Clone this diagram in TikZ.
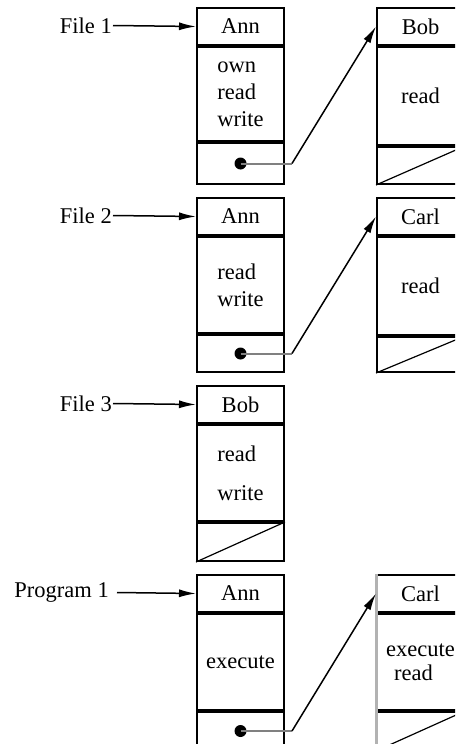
\documentclass[tikz,border=0pt]{standalone}
\usepackage{fontspec}
\setmainfont{Liberation Serif}
\usetikzlibrary{arrows.meta,positioning}
\tikzset{
  cell/.style={draw, line width=2pt, minimum width=87pt, inner sep=0pt, anchor=north west},
  hdr/.style={cell, minimum height=37pt},
  body/.style={cell, align=left},
  tail/.style={cell},
  lbl/.style={anchor=east, inner sep=1pt},
  ref/.style={line width=1.5pt, -{Latex[length=17pt,width=8pt]}},
  ptr/.style={line width=2pt, black!50},
  nil/.style={line width=1.2pt},
}
\begin{document}
\begin{tikzpicture}[x=1pt,y=-1pt,font=\fontsize{22.5}{27}\selectfont]
\useasboundingbox (0,0) rectangle (455,744);
\clip (0,0) rectangle (455,744);
% File 1
\node[hdr] (a1h) at (196,7) {Ann};
\node[body, minimum height=94pt] (a1b) at (a1h.south west) {own\\read\\write};
\node[tail, minimum height=41pt] (a1t) at (a1b.south west) {};
\node[hdr] (b1h) at (376,7) {Bob};
\node[body, minimum height=98pt] (b1b) at (b1h.south west) {read};
\node[tail, minimum height=37pt] (b1t) at (b1b.south west) {};
\draw[nil] (b1t.south west) -- (b1t.north east);
\node[lbl] (f1) at (113,25.5) {File 1};
\draw[ref] (f1.east) -- (a1h.west);
\fill (a1t.center) circle (6pt);
\coordinate (k1) at ([xshift=7pt]a1t.east);
\draw[ptr] (a1t.center) -- (k1);
\draw[ref] (k1) -- (b1h.west);
% File 2
\node[hdr] (a2h) at (196,197) {Ann};
\node[body, minimum height=96pt] (a2b) at (a2h.south west) {read\\write};
\node[tail, minimum height=37pt] (a2t) at (a2b.south west) {};
\node[hdr] (b2h) at (376,197) {Carl};
\node[body, minimum height=98pt] (b2b) at (b2h.south west) {read};
\node[tail, minimum height=35pt] (b2t) at (b2b.south west) {};
\draw[nil] (b2t.south west) -- (b2t.north east);
\node[lbl] (f2) at (113,215.5) {File 2};
\draw[ref] (f2.east) -- (a2h.west);
\fill (a2t.center) circle (6pt);
\coordinate (k2) at ([xshift=7pt]a2t.east);
\draw[ptr] (a2t.center) -- (k2);
\draw[ref] (k2) -- (b2h.west);
% File 3
\node[hdr] (a3h) at (196,385) {Bob};
\node[body, minimum height=96pt] (a3b) at (a3h.south west) {read\\[12pt]write};
\node[tail, minimum height=38pt] (a3t) at (a3b.south west) {};
\draw[nil] (a3t.south west) -- (a3t.north east);
\node[lbl] (f3) at (113,403.5) {File 3};
\draw[ref] (f3.east) -- (a3h.west);
% Program 1
\node[hdr] (a4h) at (196,574) {Ann};
\node[body, minimum height=96pt] (a4b) at (a4h.south west) {execute};
\node[tail, minimum height=38pt] (a4t) at (a4b.south west) {};
\node[hdr] (b4h) at (376,574) {Carl};
\node[body, minimum height=96pt] (b4b) at (b4h.south west) {execute\\[-3pt]\hspace{8pt}read};
\node[tail, minimum height=38pt] (b4t) at (b4b.south west) {};
\draw[nil] (b4t.south west) -- (b4t.north east);
\draw[gray!60, line width=3pt] (b4h.north west) -- (b4t.south west);
\node[lbl] (p1) at (110,592.5) {Program 1};
\draw[ref] ([xshift=7pt]p1.east) -- (a4h.west);
\fill (a4t.center) circle (6pt);
\coordinate (k4) at ([xshift=7pt]a4t.east);
\draw[ptr] (a4t.center) -- (k4);
\draw[ref] (k4) -- (b4h.west);
\end{tikzpicture}
\end{document}
